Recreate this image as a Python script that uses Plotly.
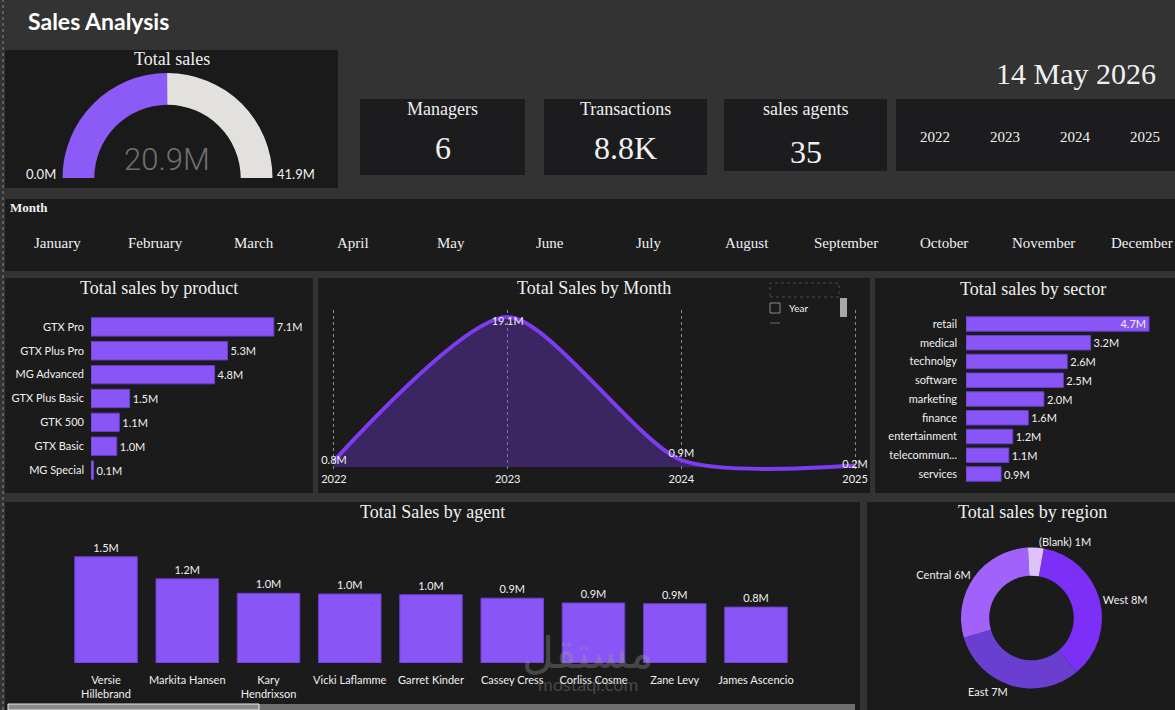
import plotly.graph_objects as go

W, H = 1175, 710
def px(x): return x / W
def py(y): return 1 - y / H

# ---------------- data ----------------
products = ["GTX Pro", "GTX Plus Pro", "MG Advanced", "GTX Plus Basic", "GTK 500", "GTX Basic", "MG Special"]
product_sales = [7.1, 5.3, 4.8, 1.5, 1.1, 1.0, 0.1]

years = [2022, 2023, 2024, 2025]
year_sales = [0.8, 19.1, 0.9, 0.2]

sectors = ["retail", "medical", "technolgy", "software", "marketing", "finance",
           "entertainment", "telecommun...", "services"]
sector_sales = [4.7, 3.2, 2.6, 2.5, 2.0, 1.6, 1.2, 1.1, 0.9]

agents = ["Versie<br>Hillebrand", "Markita Hansen", "Kary<br>Hendrixson", "Vicki Laflamme",
          "Garret Kinder", "Cassey Cress", "Corliss Cosme", "Zane Levy", "James Ascencio"]
agent_sales = [1.54, 1.22, 1.01, 1.00, 0.99, 0.94, 0.87, 0.86, 0.81]

regions = ["West", "East", "Central", "(Blank)"]
region_sales = [7.55, 6.6, 6.0, 0.75]

total_sales = 20.9
gauge_max = 41.9
kpi_titles = ["Managers", "Transactions", "sales agents"]
kpi_values = ["6", "8.8K", "35"]
months = ["January", "February", "March", "April", "May", "June", "July",
          "August", "September", "October", "November", "December"]
slicer_years = ["2022", "2023", "2024", "2025"]
report_date = "14 May 2026"

# ---------------- style ----------------
BG = "#333333"
PANEL = "#1b1b1b"
PURPLE = "#8a55f6"
PURPLE_EDGE = "#6a3ecc"
SERIF = "Liberation Serif, DejaVu Serif, serif"
SANS = "Lato, Noto Sans, sans-serif"
TXT = "#f0f0f0"

fig = go.Figure()

# Gauge (semi-donut)
fig.add_trace(go.Pie(
    values=[total_sales, gauge_max - total_sales, gauge_max],
    marker=dict(colors=["#8c5af7", "#e2e1de", "rgba(0,0,0,0)"], line=dict(width=0)),
    hole=0.697, sort=False, direction="clockwise", rotation=270,
    textinfo="none", hoverinfo="skip", showlegend=False,
    domain=dict(x=[px(62), px(273)], y=[py(283), py(73)]),
))

# Product bars
fig.add_trace(go.Bar(
    x=product_sales, y=products, orientation="h",
    marker=dict(color=PURPLE, line=dict(color=PURPLE_EDGE, width=1)),
    texttemplate="%{x:.1f}M", textposition="outside", constraintext="none",
    textfont=dict(family=SANS, size=11, color=TXT), cliponaxis=False,
    xaxis="x", yaxis="y", showlegend=False,
))

# Sales by year line/area
fig.add_trace(go.Scatter(
    x=years, y=year_sales, mode="lines+text",
    line=dict(color="#7d3cf0", width=4, shape="spline", smoothing=0.7),
    fill="tozeroy", fillcolor="rgba(125,60,240,0.34)",
    text=[f"{v:.1f}M" for v in year_sales],
    textposition=["middle center", "bottom center", "top center", "middle center"],
    textfont=dict(family=SANS, size=11, color=TXT), cliponaxis=False,
    xaxis="x2", yaxis="y2", showlegend=False,
))

# Sector bars
fig.add_trace(go.Bar(
    x=sector_sales, y=sectors, orientation="h",
    marker=dict(color=PURPLE, line=dict(color=PURPLE_EDGE, width=1)),
    texttemplate="%{x:.1f}M",
    textposition=["inside"] + ["outside"] * (len(sectors) - 1),
    insidetextanchor="end", constraintext="none",
    textfont=dict(family=SANS, size=11, color=TXT), cliponaxis=False,
    xaxis="x3", yaxis="y3", showlegend=False,
))

# Agent columns
fig.add_trace(go.Bar(
    x=agents, y=agent_sales,
    marker=dict(color=PURPLE, line=dict(color=PURPLE_EDGE, width=1)),
    texttemplate="%{y:.1f}M", textposition="outside", constraintext="none",
    textfont=dict(family=SANS, size=11, color=TXT), cliponaxis=False,
    xaxis="x4", yaxis="y4", showlegend=False,
))

# Region donut
fig.add_trace(go.Pie(
    labels=regions, values=region_sales,
    marker=dict(colors=["#7b2ff7", "#6a3fd0", "#a062fa", "#dcc1fb"], line=dict(width=0)),
    hole=0.6, sort=False, direction="clockwise", rotation=10,
    textposition="outside", texttemplate="%{label} %{value:.0f}M",
    textfont=dict(family=SANS, size=11, color=TXT),
    showlegend=False, automargin=False,
    domain=dict(x=[px(961), px(1102)], y=[py(688.5), py(547.5)]),
))

# ---------------- shapes ----------------
shapes = []
def panel(x0, y0, x1, y1, color=PANEL):
    shapes.append(dict(type="rect", xref="paper", yref="paper",
                       x0=px(x0), x1=px(x1), y0=py(y1), y1=py(y0),
                       fillcolor=color, line=dict(width=0), layer="below"))

panel(5, 50, 338, 188, "#1a1a1a")
panel(360, 99, 525, 175, "#1c1c1e")
panel(544, 99, 707, 175, "#1c1c1e")
panel(724, 99, 887, 171, "#1c1c1e")
panel(896, 99, 1175, 171, "#1c1c1e")
panel(5, 199, 1175, 271)
panel(5, 278, 313, 493)
panel(318, 278, 870, 493)
panel(875, 278, 1175, 493)
panel(5, 502, 860, 710)
panel(867, 502, 1175, 710)

# left dotted selection border
shapes.append(dict(type="line", xref="paper", yref="paper", x0=px(3), x1=px(3), y0=0, y1=1,
                   line=dict(color="#8a8a8a", width=1, dash="dot")))
# legend widget in month chart
shapes.append(dict(type="rect", xref="paper", yref="paper", x0=px(770), x1=px(839),
                   y0=py(297), y1=py(283), line=dict(color="#4a4a4a", width=1, dash="dot")))
shapes.append(dict(type="rect", xref="paper", yref="paper", x0=px(770), x1=px(780),
                   y0=py(313), y1=py(303), line=dict(color="#8a8a8a", width=1)))
shapes.append(dict(type="rect", xref="paper", yref="paper", x0=px(840), x1=px(847),
                   y0=py(317), y1=py(298), fillcolor="#a8a8a8", line=dict(width=0)))
shapes.append(dict(type="line", xref="paper", yref="paper", x0=px(770), x1=px(780),
                   y0=py(323), y1=py(323), line=dict(color="#6a6a6a", width=1)))
# scrollbar at bottom of agent chart
shapes.append(dict(type="rect", xref="paper", yref="paper", x0=px(8), x1=px(855),
                   y0=py(710), y1=py(704), fillcolor="#6e6e6e", line=dict(width=0)))
shapes.append(dict(type="rect", xref="paper", yref="paper", x0=px(8), x1=px(259),
                   y0=py(710), y1=py(704), fillcolor="#8a8a8a", line=dict(color="#e8e8e8", width=1)))

# ---------------- annotations ----------------
ann = []
def text(x, y, s, size, family=SERIF, color=TXT, xanchor="center", weight=None, opacity=1):
    f = dict(family=family, size=size, color=color)
    if weight:
        f["weight"] = weight
    ann.append(dict(x=px(x), y=py(y), xref="paper", yref="paper", text=s, showarrow=False,
                    xanchor=xanchor, yanchor="middle", font=f, opacity=opacity))

text(26, 21, "<b>Sales Analysis</b>", 23, family=SANS, color="#ffffff", xanchor="left")
text(172, 59, "Total sales", 18)
text(167, 159, f"{total_sales}M", 31, family="Roboto, sans-serif", color="#707070", weight=300)
text(41, 174, f"{0:.1f}M", 13, family=SANS)
text(296, 174, f"{gauge_max}M", 13, family=SANS)

kpi_cx = [442.5, 625.5, 805.5]
kpi_vy = [148, 148, 152]
for cx, t, v, vy in zip(kpi_cx, kpi_titles, kpi_values, kpi_vy):
    text(cx, 109, t, 18)
    text(cx, vy, v, 32)

text(1158, 74, report_date, 30, xanchor="right")
for i, yv in enumerate(slicer_years):
    text(935 + i * 70, 137, yv, 15)

text(8, 207, "<b>Month</b>", 13, xanchor="left")
for i, m in enumerate(months):
    text(57 + i * 98.6, 243, m, 15)

text(159, 288, "Total sales by product", 18)
text(594, 288, "Total Sales by Month", 18)
text(1033, 289, "Total sales by sector", 18)
text(432, 512, "Total Sales by agent", 18)
text(1032, 512, "Total sales by region", 18)
text(787, 308, "Year", 10, family=SANS, xanchor="left")

# watermark
text(588, 652, "مستقل", 44, family="DejaVu Sans, sans-serif", color="#9a9a9a", opacity=0.35)
text(588, 684, "mostaql.com", 18, family=SANS, color="#9a9a9a", opacity=0.35)

# ---------------- layout ----------------
axis_off = dict(visible=False, showgrid=False, zeroline=False, fixedrange=True)
fig.update_layout(
    width=W, height=H, margin=dict(l=0, r=0, t=0, b=0, autoexpand=False),
    paper_bgcolor=BG, plot_bgcolor="rgba(0,0,0,0)",
    showlegend=False, bargap=0.23,
    shapes=shapes, annotations=ann,
    xaxis=dict(axis_off, domain=[px(91), px(297)], range=[0, 8], anchor="y"),
    yaxis=dict(domain=[py(482), py(315)], anchor="x", type="category",
               categoryorder="array", categoryarray=products, autorange="reversed",
               showgrid=False, zeroline=False, showline=False, ticks="",
               ticklabelstandoff=6, tickfont=dict(family=SANS, size=11, color=TXT)),
    xaxis2=dict(domain=[px(330.5), px(858.5)], range=[2021.98, 2025.02], anchor="y2",
                tickvals=years, ticktext=[str(y) for y in years],
                showgrid=True, gridcolor="#8a8a8a", griddash="dot", gridwidth=1,
                zeroline=False, showline=False, ticks="",
                tickfont=dict(family=SANS, size=11, color=TXT)),
    yaxis2=dict(axis_off, domain=[py(471), py(310)], range=[-0.5, 20], anchor="x2"),
    xaxis3=dict(axis_off, domain=[px(966), px(1160.7)], range=[0, 5], anchor="y3"),
    yaxis3=dict(domain=[py(483.4), py(314.6)], anchor="x3", type="category",
                categoryorder="array", categoryarray=sectors, autorange="reversed",
                showgrid=False, zeroline=False, showline=False, ticks="",
                ticklabelstandoff=8, tickfont=dict(family=SANS, size=11, color=TXT)),
    xaxis4=dict(domain=[px(65.4), px(796.6)], anchor="y4", type="category",
                showgrid=False, zeroline=False, showline=False, ticks="",
                ticklabelstandoff=9, tickfont=dict(family=SANS, size=11, color=TXT)),
    yaxis4=dict(axis_off, domain=[py(663), py(552.6)], range=[0, 1.6], anchor="x4"),
)

fig.write_html("out.html", config={"displayModeBar": False})
